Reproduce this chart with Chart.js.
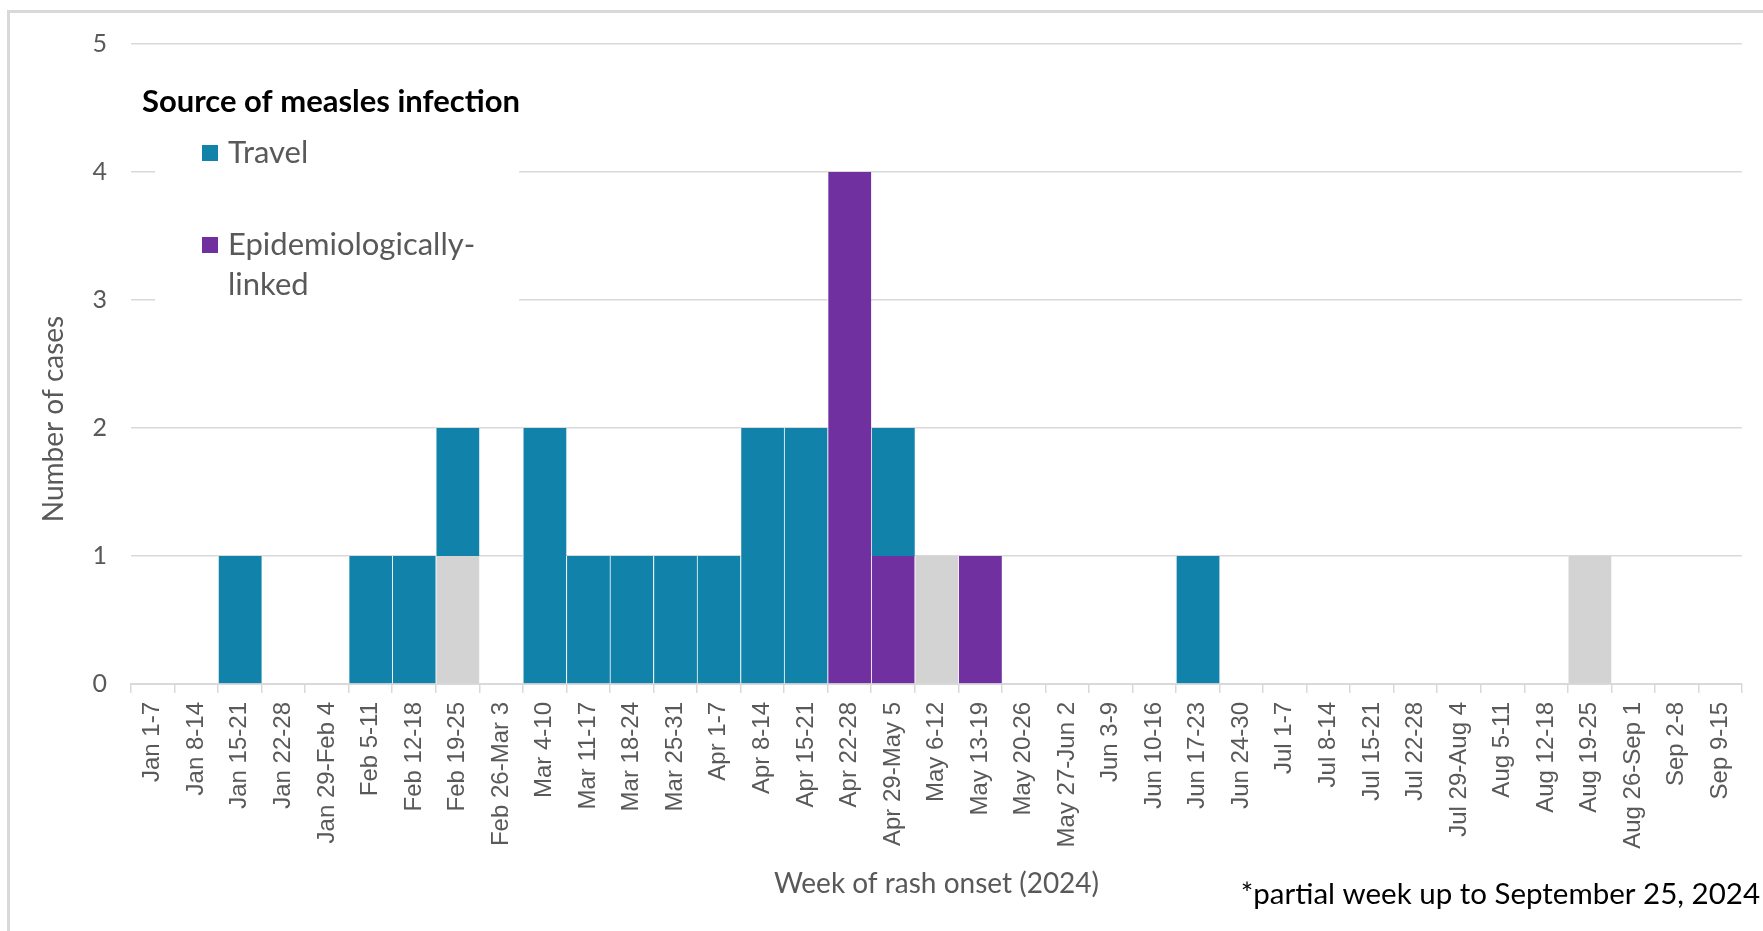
<!DOCTYPE html>
<html>
<head>
<meta charset="utf-8">
<title>Source of measles infection</title>
<script src="https://cdn.jsdelivr.net/npm/chart.js@4.4.1/dist/chart.umd.min.js"></script>
<style>
  html, body { margin: 0; padding: 0; background: #ffffff; }
  .chart-wrap { position: relative; width: 1763px; height: 931px; overflow: hidden; }
</style>
</head>
<body>
<div class="chart-wrap">
  <canvas id="measlesChart"></canvas>
</div>
<script>
const weeks = [
  `Jan 1-7`, `Jan 8-14`, `Jan 15-21`, `Jan 22-28`, `Jan 29-Feb 4`,
  `Feb 5-11`, `Feb 12-18`, `Feb 19-25`, `Feb 26-Mar 3`,
  `Mar 4-10`, `Mar 11-17`, `Mar 18-24`, `Mar 25-31`,
  `Apr 1-7`, `Apr 8-14`, `Apr 15-21`, `Apr 22-28`, `Apr 29-May 5`,
  `May 6-12`, `May 13-19`, `May 20-26`, `May 27-Jun 2`,
  `Jun 3-9`, `Jun 10-16`, `Jun 17-23`, `Jun 24-30`,
  `Jul 1-7`, `Jul 8-14`, `Jul 15-21`, `Jul 22-28`, `Jul 29-Aug 4`,
  `Aug 5-11`, `Aug 12-18`, `Aug 19-25`, `Aug 26-Sep 1`,
  `Sep 2-8`, `Sep 9-15`,
];

// cases per week, by source
const travelCases = [0, 0, 1, 0, 0, 1, 1, 1, 0, 2, 1, 1, 1, 1, 2, 2, 0, 1, 0, 0, 0, 0, 0, 0, 1, 0, 0, 0, 0, 0, 0, 0, 0, 0, 0, 0, 0];
const epiLinkedCases = [0, 0, 0, 0, 0, 0, 0, 0, 0, 0, 0, 0, 0, 0, 0, 0, 4, 1, 0, 1, 0, 0, 0, 0, 0, 0, 0, 0, 0, 0, 0, 0, 0, 0, 0, 0, 0];
const otherCases = [0, 0, 0, 0, 0, 0, 0, 1, 0, 0, 0, 0, 0, 0, 0, 0, 0, 0, 1, 0, 0, 0, 0, 0, 0, 0, 0, 0, 0, 0, 0, 0, 0, 1, 0, 0, 0];

const yTicks = [0, 1, 2, 3, 4, 5];
const yTitle = `Number of cases`;
const xTitle = `Week of rash onset (2024)`;
const legendTitle = `Source of measles infection`;
const legendLabels = [[`Travel`], [`Epidemiologically-`, `linked`]];
const footnote = `*partial week up to September 25, 2024`;

const TRAVEL_COLOR = `#1182a9`;
const EPI_COLOR = `#7030a0`;
const OTHER_COLOR = `#d3d3d3`;
const GRID_COLOR = `#d9d9d9`;
const TEXT_GRAY = `#595959`;

const framePlugin = {
  id: `frame`,
  beforeDraw(chart) {
    const {ctx} = chart;
    ctx.save();
    ctx.fillStyle = GRID_COLOR;
    ctx.fillRect(7, 10, 3, chart.height);
    ctx.fillRect(7, 10, chart.width, 3);
    ctx.restore();
  }
};

const legendPlugin = {
  id: `insideLegend`,
  beforeDatasetsDraw(chart) {
    const {ctx} = chart;
    const colors = [TRAVEL_COLOR, EPI_COLOR];
    const itemTops = [153, 245];
    ctx.save();
    // white box hides the grid lines behind the legend
    ctx.fillStyle = `#ffffff`;
    ctx.fillRect(155, 58, 364, 272);

    ctx.textBaseline = `middle`;
    ctx.textAlign = `left`;
    ctx.fillStyle = `#000000`;
    ctx.font = `bold 31px Lato`;
    ctx.fillText(legendTitle, 142, 102);

    ctx.font = `31px Lato`;
    legendLabels.forEach((lines, i) => {
      const y = itemTops[i];
      ctx.fillStyle = colors[i];
      ctx.fillRect(202, y - 8, 16, 16);
      ctx.fillStyle = TEXT_GRAY;
      lines.forEach((line, j) => {
        ctx.fillText(line, 228, y + j * 40);
      });
    });
    ctx.restore();
  },
  afterDraw(chart) {
    const {ctx} = chart;
    ctx.save();
    ctx.textBaseline = `middle`;
    ctx.fillStyle = `#000000`;
    ctx.textAlign = `right`;
    ctx.font = `29.5px Lato`;
    ctx.fillText(footnote, 1760, 894);

    // y axis title sits a bit below the middle of the plot, as in the source
    ctx.translate(54, 419);
    ctx.rotate(-Math.PI / 2);
    ctx.textAlign = `center`;
    ctx.fillStyle = TEXT_GRAY;
    ctx.font = `28px Lato`;
    ctx.fillText(yTitle, 0, 0);
    ctx.restore();
  }
};

const barStyle = {
  borderColor: `#ffffff`,
  borderWidth: {left: 1, right: 0, top: 0, bottom: 0},
  borderSkipped: false,
  barPercentage: 1,
  categoryPercentage: 1,
};

const ctx = document.getElementById(`measlesChart`);

new Chart(ctx, {
  type: `bar`,
  plugins: [framePlugin, legendPlugin],
  data: {
    labels: weeks,
    datasets: [
      Object.assign({label: `Other`, data: otherCases, backgroundColor: OTHER_COLOR}, barStyle),
      Object.assign({label: `Epidemiologically-linked`, data: epiLinkedCases, backgroundColor: EPI_COLOR}, barStyle),
      Object.assign({label: `Travel`, data: travelCases, backgroundColor: TRAVEL_COLOR}, barStyle),
    ]
  },
  options: {
    responsive: true,
    maintainAspectRatio: false,
    animation: false,
    layout: {
      padding: {top: 44, right: 21, bottom: 0, left: 0}
    },
    plugins: {
      legend: {display: false},
      tooltip: {enabled: false},
      title: {display: false},
    },
    scales: {
      x: {
        stacked: true,
        grid: {
          display: true,
          drawOnChartArea: false,
          drawTicks: true,
          tickLength: 9,
          color: GRID_COLOR,
          lineWidth: 1.5,
          offset: true,
        },
        border: {
          display: true,
          color: GRID_COLOR,
          width: 2,
        },
        ticks: {
          autoSkip: false,
          maxRotation: 90,
          minRotation: 90,
          padding: 9,
          color: TEXT_GRAY,
          font: {family: `Liberation Sans`, size: 24},
        },
        title: {
          display: true,
          text: xTitle,
          color: TEXT_GRAY,
          font: {family: `Lato`, size: 28},
          padding: {top: 0, bottom: 30},
        },
        afterFit: (scale) => {
          scale.height = 247;
        },
      },
      y: {
        stacked: true,
        min: yTicks[0],
        max: yTicks[yTicks.length - 1],
        afterBuildTicks: (scale) => {
          scale.ticks = yTicks.map((v) => ({value: v}));
        },
        grid: {
          color: GRID_COLOR,
          lineWidth: 1.5,
          drawTicks: false,
        },
        border: {display: false},
        ticks: {
          padding: 24,
          color: TEXT_GRAY,
          font: {family: `Lato`, size: 25},
        },
        title: {display: false},
        afterFit: (scale) => {
          scale.width = 131;
        },
      },
    }
  }
});
</script>
</body>
</html>
